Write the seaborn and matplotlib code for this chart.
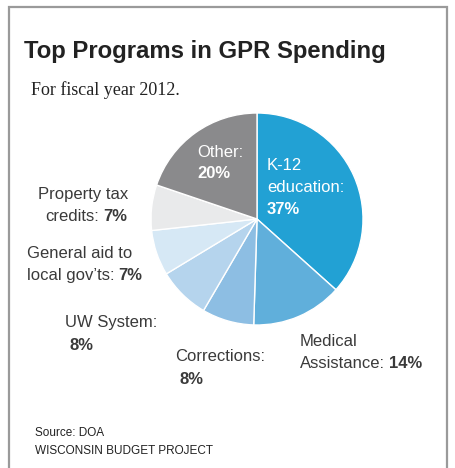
#recreating the GPR spending pie chart
import matplotlib
matplotlib.use('Agg')
import matplotlib.pyplot as plt
import matplotlib.patches as patches
import seaborn as sns

# data, clockwise from the top
programs = ['K-12 education', 'Medical Assistance', 'Corrections', 'UW System',
            'General aid to local gov\u2019ts', 'Property tax credits', 'Other']
shares = [37, 14, 8, 8, 7, 7, 20]
colors = ['#22a1d4', '#60afdb', '#8dbee3', '#b5d4ed', '#d6e8f5', '#e9eaeb', '#8a8a8c']

W, H = 455, 468
sns.set_theme(style='white')
plt.rcParams['font.family'] = ['Liberation Sans', 'DejaVu Sans']

fig = plt.figure(figsize=(W / 100, H / 100), dpi=100)
fig.patch.set_facecolor('white')

def fx(px):
    return px / W

def fy(py):
    return 1 - py / H

# gray frame (open at the bottom edge of the image)
fig.patches.append(patches.Rectangle((fx(9), fy(475)), (447 - 9) / W, (475 - 7) / H,
                                     transform=fig.transFigure, fill=False,
                                     edgecolor='#9a9a9a', linewidth=1.6))

# pie
cx, cy, r = 257, 219, 106
ax = fig.add_axes([fx(cx - r), fy(cy + r), fx(2 * r), (2 * r) / H])
ax.pie(shares, colors=colors, startangle=90, counterclock=False,
       wedgeprops=dict(edgecolor='white', linewidth=1.0))
ax.set_xlim(-1, 1)
ax.set_ylim(-1, 1)
ax.set_aspect('equal')
ax.axis('off')

txt = '#3a3a3a'
fs = 12

def line(x, y, normal, bold='', color=txt):
    # normal text at pixel (x, baseline y), optional bold part right after it
    if normal:
        t = fig.text(fx(x), fy(y), normal, fontsize=fs, color=color, va='baseline')
        if bold:
            fig.canvas.draw()
            bb = t.get_window_extent()
            fig.text(bb.x1 / W + fx(4), fy(y), bold, fontsize=fs, color=color,
                     fontweight='bold', va='baseline')
    else:
        fig.text(fx(x), fy(y), bold, fontsize=fs, color=color, fontweight='bold',
                 va='baseline')

fig.text(fx(24), fy(58), 'Top Programs in GPR Spending', fontsize=17.2, fontweight='bold',
         color='#222222', va='baseline')
fig.text(fx(31), fy(95), 'For fiscal year 2012.', fontsize=13, color='#222222',
         family='Liberation Serif', va='baseline')

line(38, 199, 'Property tax')
line(45, 221, 'credits:', '7%')
line(27, 258, 'General aid to')
line(27, 280, 'local gov\u2019ts:', '7%')
line(65, 327, 'UW System:')
line(70, 350, '', '8%')
line(175, 361, 'Corrections:')
line(180, 384, '', '8%')
line(300, 346, 'Medical')
line(300, 368, 'Assistance:', '14%')
line(197, 157, 'Other:', color='white')
line(197, 178, '', '20%', color='white')
line(267, 170, 'K-12', color='white')
line(267, 192, 'education:', color='white')
line(267, 214, '', '37%', color='white')

fig.text(fx(35), fy(436), 'Source: DOA', fontsize=8.5, color='#222222', va='baseline')
fig.text(fx(35), fy(454), 'WISCONSIN BUDGET PROJECT', fontsize=8.5, color='#222222',
         va='baseline')

fig.savefig('out.png', dpi=100)
